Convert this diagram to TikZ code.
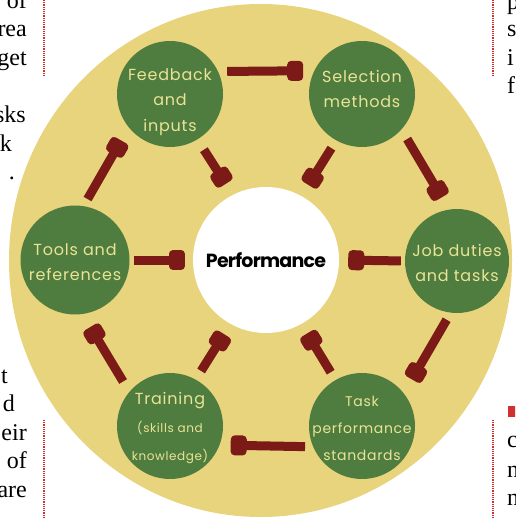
\documentclass[tikz,border=0pt]{standalone}
\usepackage{fontspec}
\usetikzlibrary{arrows.meta}
\newfontfamily\gfont{Poppins}[LetterSpace=5]
\newfontfamily\pfont{Poppins}[LetterSpace=-4]
\newfontfamily\mfont{Liberation Serif}
\definecolor{tan}{HTML}{E8D47C}
\definecolor{gcol}{HTML}{4F7D3F}
\definecolor{rcol}{HTML}{7B1A16}
\definecolor{tcol}{HTML}{EAE396}
\definecolor{dcol}{HTML}{D03030}
\tikzset{
  gnode/.style={circle, fill=gcol, minimum size=106pt, inner sep=0pt},
  gtext/.style={inner sep=0pt, text=tcol, align=center, font=\gfont\fontsize{16}{25.5}\selectfont},
  pnode/.style={circle, fill=white, minimum size=146pt, inner sep=0pt, font=\pfont\bfseries\fontsize{19}{20}\selectfont},
  arr/.style={draw=rcol, line width=9pt, -{Rectangle[length=16pt,width=20pt,round]}},
  lmarg/.style={anchor=base east, inner sep=0pt, font=\mfont\fontsize{24}{28}\selectfont},
  rmarg/.style={anchor=base west, inner sep=0pt, font=\mfont\fontsize{24}{28}\selectfont},
  dotline/.style={draw=dcol, line width=2pt, dash pattern=on 1.2pt off 1pt}
}
\begin{document}
\begin{tikzpicture}[x=1pt,y=-1pt]
\clip (0,0) rectangle (515,518);
\fill[white] (0,0) rectangle (515,518);
% big disc
\fill[tan] (260.5,260.5) ellipse [x radius=251.5, y radius=256.5];
% nodes
\node[pnode] (p) at (266,260) {Performance};
\node[gnode] (fb) at (170,94) {};
\node[gnode] (sel) at (362,94) {};
\node[gnode, minimum size=109pt] (tl) at (75,260) {};
\node[gnode, minimum size=104pt] (jd) at (457,261) {};
\node[gnode] (tr) at (170,426) {};
\node[gnode] (tk) at (362,426) {};
% texts in the circles
\node[gtext] (fbt) at ([yshift=-8pt]fb.center) {Feedback\\and\\inputs};
\node[gtext] (selt) at ([yshift=5pt]sel.center) {Selection\\methods};
\node[gtext] (tlt) at ([yshift=-2pt]tl.center) {Tools and\\references};
\node[gtext] (jdt) at ([yshift=-2pt]jd.center) {Job duties\\and tasks};
\node[gtext, font=\gfont\fontsize{16}{28}\selectfont] (trt) at ([yshift=-2pt]tr.center) {Training\\{\fontsize{12}{28}\selectfont (skills and}\\{\fontsize{12}{28}\selectfont knowledge)}};
\node[gtext, font=\gfont\fontsize{14}{27}\selectfont] (tkt) at ([yshift=-2pt]tk.center) {Task\\performance\\standards};
% arrows
\draw[arr, shorten <=9pt, shorten >=11pt] (fb.25.7) -- (sel.154.3);
\draw[arr, shorten <=11pt, shorten >=14pt] (sel.-42) -- (jd.99.5);
\draw[arr, shorten <=4pt, shorten >=9pt] (jd.180) -- (p.0);
\draw[arr, shorten <=8pt, shorten >=16pt] (jd.-97.5) -- (tk.38);
\draw[arr, shorten <=8pt, shorten >=11pt] (tk.-157) -- (tr.-21.8);
\draw[arr, shorten <=12pt, shorten >=15pt] (tr.140.6) -- (tl.-82.7);
\draw[arr, shorten <=8pt, shorten >=15pt] (tl.81) -- (fb.219.7);
\draw[arr, shorten <=4pt, shorten >=8pt] (tl.0) -- (p.180);
\draw[arr, shorten <=12pt, shorten >=13pt] (fb.-59.5) -- (p.117.8);
\draw[arr, shorten <=9pt, shorten >=13pt] (sel.-119.9) -- (p.61.7);
\draw[arr, shorten <=10pt, shorten >=12pt] (tr.61.8) -- (p.-119.6);
\draw[arr, shorten <=9pt, shorten >=11pt] (tk.120.3) -- (p.-61.6);
% margin text, left column
\node[lmarg] (l1) at (27,8.5) {of};
\node[lmarg] (l2) at (27,37) {rea};
\node[lmarg] (l3) at (27,65.5) {get};
\node[lmarg] (l4) at (26,123) {sks};
\node[lmarg] (l5) at (12,151.5) {k};
\node[lmarg] (l6) at (15,180) {.};
\node[lmarg] (l7) at (8,383) {t};
\node[lmarg] (l8) at (15,411.5) {d};
\node[lmarg] (l9) at (27,440) {eir};
\node[lmarg] (l10) at (27,468.5) {of};
\node[lmarg] (l11) at (27,497) {are};
% margin text, right column
\node[rmarg] (r1) at (507,10) {p};
\node[rmarg] (r2) at (507,37) {s};
\node[rmarg] (r3) at (507,65.5) {i};
\node[rmarg] (r4) at (507,94) {f};
\node[rmarg] (r5) at (507,447) {c};
\node[rmarg] (r6) at (507,477) {n};
\node[rmarg] (r7) at (507,505) {n};
\fill[dcol] (508,406) rectangle (516,417);
% dotted rules
\draw[dotline] (44,0) -- (44,77);
\draw[dotline] (44,420) -- (44,518);
\draw[dotline] (493,0) -- (493,77);
\draw[dotline] (493,420) -- (493,518);
\end{tikzpicture}
\end{document}
